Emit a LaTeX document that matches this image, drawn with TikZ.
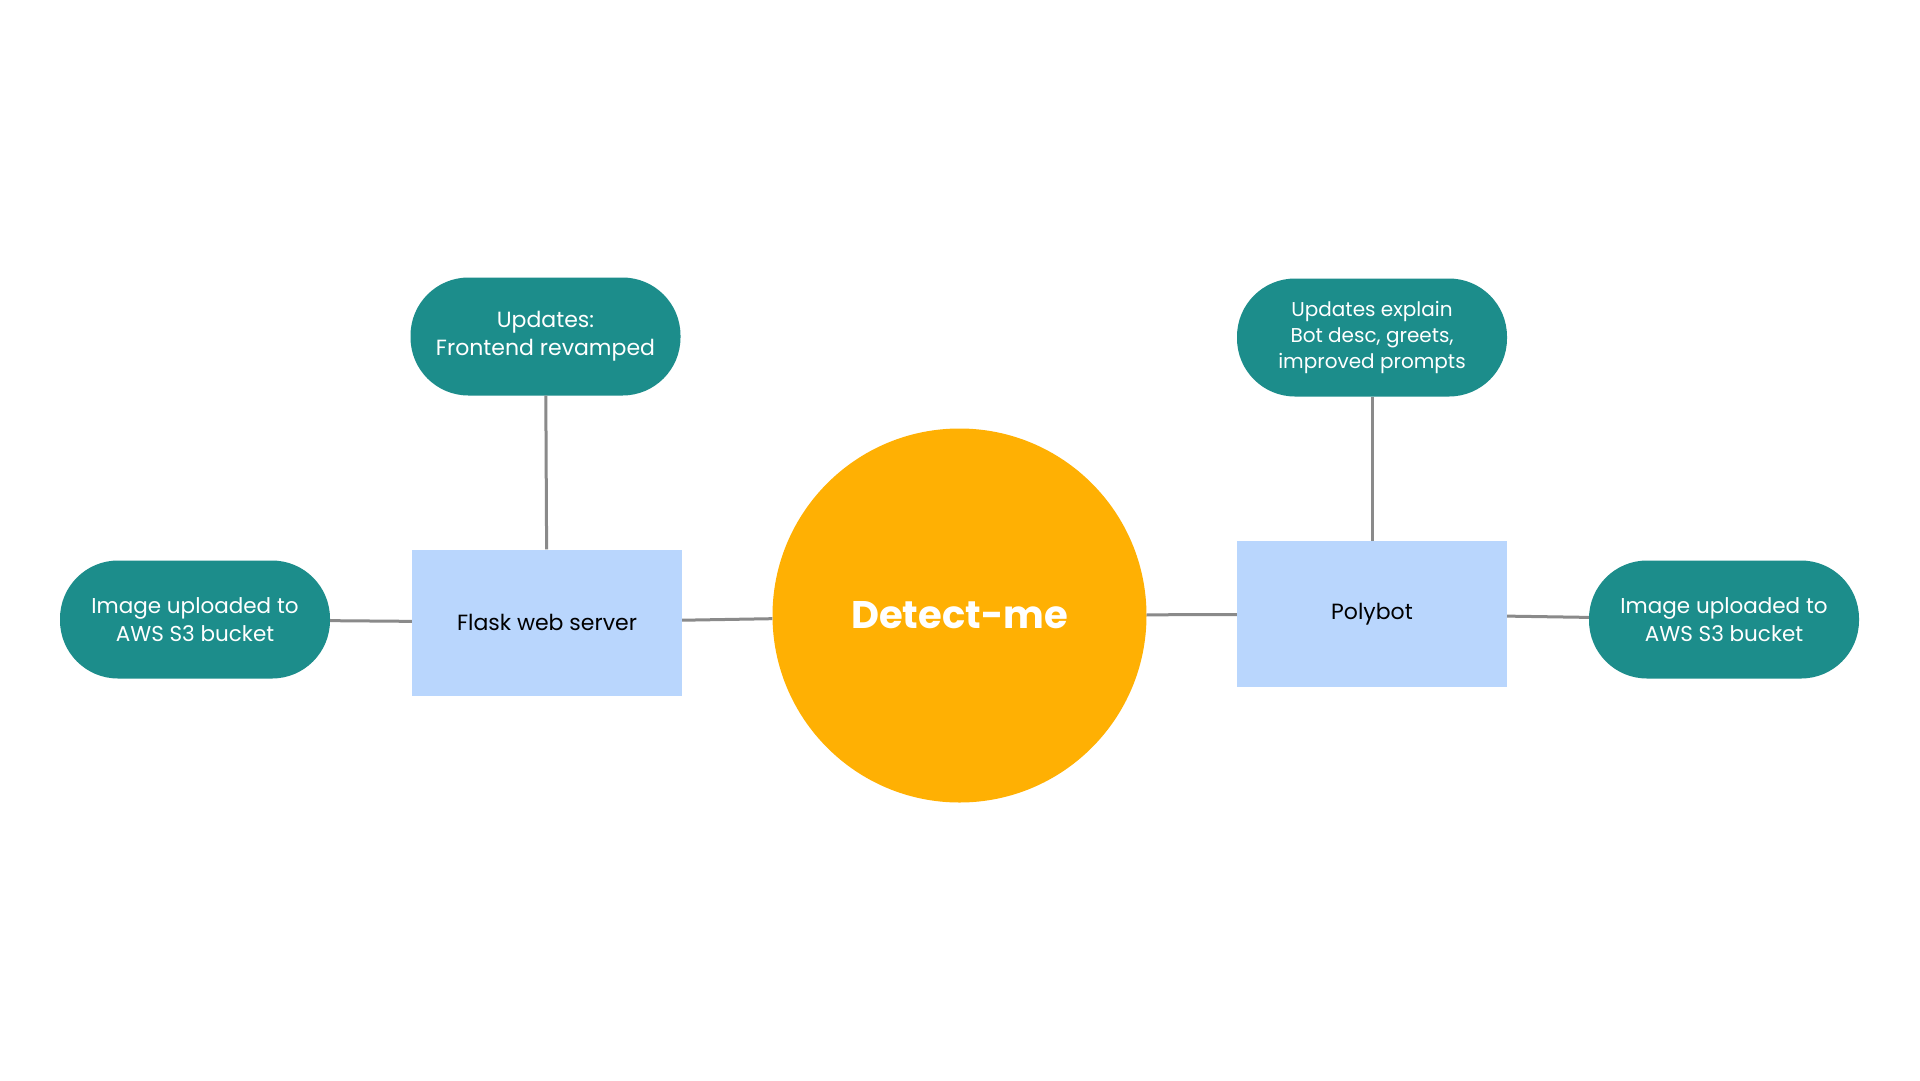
\documentclass[tikz,border=0pt]{standalone}
\usepackage{fontspec}
\setmainfont{Poppins}
\definecolor{teal}{HTML}{1C8D8B}
\definecolor{boxblue}{HTML}{B9D6FD}
\definecolor{orng}{HTML}{FFB003}
\definecolor{linegray}{HTML}{8A8A8A}
\tikzset{
  pill/.style={fill=teal, text=white, rounded corners=58pt, minimum width=270pt, minimum height=118pt, align=center, inner sep=0pt, font=\fontsize{21.5}{28}\selectfont},
  bluebox/.style={fill=boxblue, text=black, minimum width=270pt, minimum height=146pt, inner sep=0pt, font=\fontsize{22}{26}\selectfont},
  hub/.style={circle, fill=orng, text=white, minimum size=374pt, inner sep=0pt, font=\fontsize{38.5}{42}\selectfont\bfseries},
  conn/.style={draw=linegray, line width=3pt}
}
\begin{document}
\begin{tikzpicture}[x=1pt,y=-1pt]
\useasboundingbox[fill=white] (0,0) rectangle (1920,1080);
\node[hub] (hub) at (959.5,615.5) {Detect-me};
\node[bluebox] (flask) at (547,622.5) {Flask web server};
\node[bluebox] (poly) at (1372,614) {Polybot};
\node[pill, font=\fontsize{22}{28}\selectfont] (tl) at (545.5,336.5) {Updates:\\Frontend revamped};
\node[pill, font=\fontsize{20}{26}\selectfont] (tr) at (1372,337.5) {Updates explain\\Bot desc, greets,\\improved prompts};
\node[pill] (lp) at (195,619.5) {Image uploaded to\\AWS S3 bucket};
\node[pill] (rp) at (1724,619.5) {Image uploaded to\\AWS S3 bucket};
\draw[conn] (lp) -- (flask);
\draw[conn] (flask) -- (hub);
\draw[conn] (hub) -- (poly);
\draw[conn] (poly) -- (rp);
\draw[conn] (tl) -- (flask);
\draw[conn] (tr) -- (poly);
\end{tikzpicture}
\end{document}
